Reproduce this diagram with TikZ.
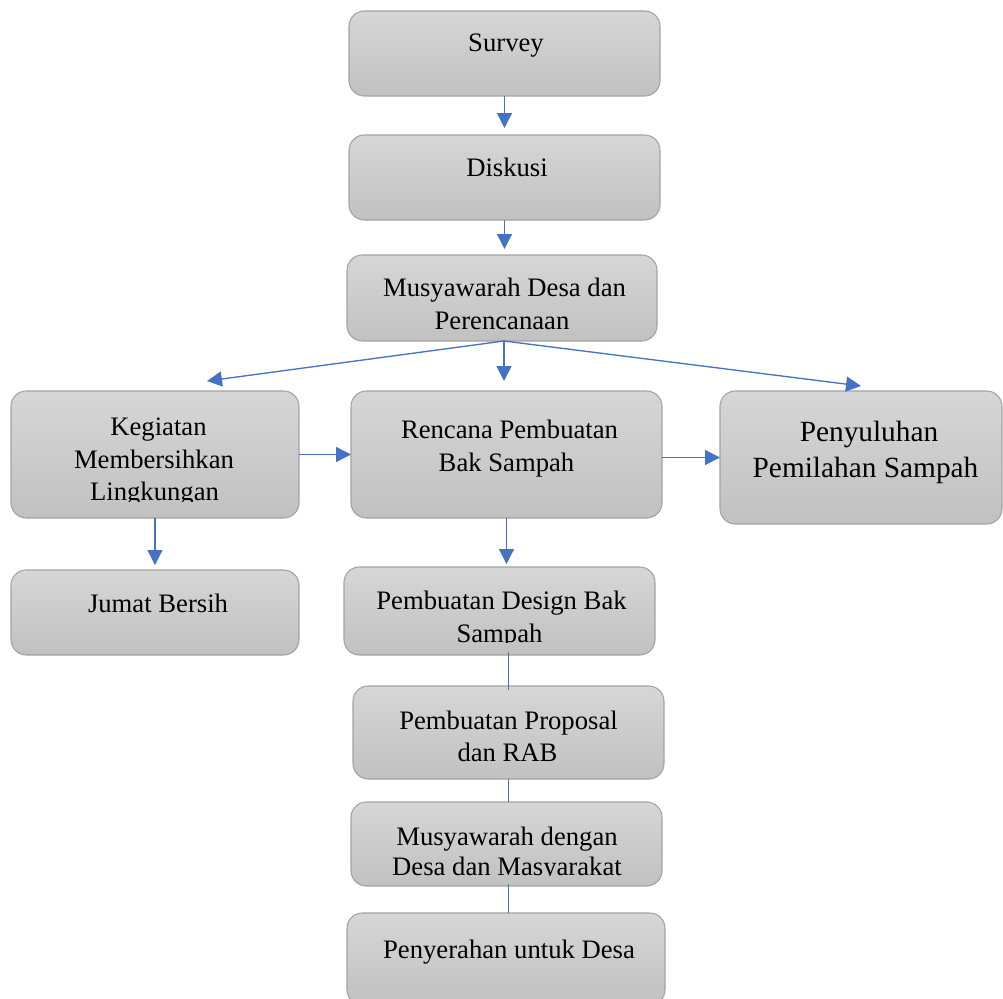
\documentclass[tikz,border=0pt]{standalone}
\usepackage{fontspec}
\setmainfont{Liberation Serif}
\usetikzlibrary{arrows.meta,calc}
\definecolor{boxtop}{HTML}{D6D6D6}
\definecolor{boxbot}{HTML}{C1C1C1}
\definecolor{boxline}{HTML}{A3A3A3}
\definecolor{arrblue}{HTML}{4472C4}
\tikzset{
  box/.style={draw=boxline, line width=0.8pt, rounded corners=11.5pt,
    top color=boxtop, bottom color=boxbot, inner sep=0pt, outer sep=0pt},
  txt/.style={anchor=base, inner sep=0pt, font=\fontsize{20pt}{24pt}\selectfont},
  bigtxt/.style={anchor=base, inner sep=0pt, font=\fontsize{22pt}{26pt}\selectfont},
  arr/.style={draw=arrblue, line width=1pt, -{Triangle[length=11.25pt,width=11.25pt]}},
  link/.style={draw=arrblue, line width=1pt}
}
\begin{document}
\begin{tikzpicture}[x=0.75pt,y=-0.75pt]
\useasboundingbox (0,0) rectangle (1003,999);
% boxes
\node[box, minimum width=311*0.75pt, minimum height=85*0.75pt] (s1) at (504.5,53.5) {};
\node[box, minimum width=311*0.75pt, minimum height=85*0.75pt] (s2) at (504.5,177.5) {};
\node[box, minimum width=310*0.75pt, minimum height=86*0.75pt] (s3) at (502,298) {};
\node[box, minimum width=288*0.75pt, minimum height=127*0.75pt] (s4) at (155,454.5) {};
\node[box, minimum width=311*0.75pt, minimum height=127*0.75pt] (s5) at (506.5,454.5) {};
\node[box, minimum width=282*0.75pt, minimum height=133*0.75pt] (s6) at (861,457.5) {};
\node[box, minimum width=288*0.75pt, minimum height=85*0.75pt] (s7) at (155,612.5) {};
\node[box, minimum width=311*0.75pt, minimum height=88*0.75pt] (s8) at (499.5,611) {};
\node[box, minimum width=311*0.75pt, minimum height=93*0.75pt] (s9) at (508.5,732.5) {};
\node[box, minimum width=311*0.75pt, minimum height=84*0.75pt] (s10) at (506.5,844) {};
\node[box, minimum width=318*0.75pt, minimum height=92*0.75pt] (s11) at (506,959) {};
% texts
\node[txt] (t1) at (506,52) {Survey};
\node[txt] (t2) at (507,176) {Diskusi};
\node[txt] (t3a) at (504.5,296) {Musyawarah Desa dan};
\begin{scope}
  \clip (347,300) rectangle (657,329.5);
  \node[txt] (t3b) at (502,329) {Perencanaan};
\end{scope}
\node[txt] (t4a) at (158.5,435) {Kegiatan};
\node[txt] (t4b) at (154,468) {Membersihkan};
\begin{scope}
  \clip (11,470) rectangle (299,501);
  \node[txt] (t4c) at (154.5,500) {Lingkungan};
\end{scope}
\node[txt] (t5a) at (509.5,438) {Rencana Pembuatan};
\node[txt] (t5b) at (506.5,471) {Bak Sampah};
\node[bigtxt] (t6a) at (869,441) {Penyuluhan};
\node[bigtxt] (t6b) at (865.5,477) {Pemilahan Sampah};
\node[txt] (t7) at (158,612) {Jumat Bersih};
\node[txt] (t8a) at (501.5,609) {Pembuatan Design Bak};
\begin{scope}
  \clip (344,612) rectangle (655,642.5);
  \node[txt] (t8b) at (499.5,642) {Sampah};
\end{scope}
\node[txt] (t9a) at (508.5,729) {Pembuatan Proposal};
\node[txt] (t9b) at (507.5,761) {dan RAB};
\node[txt] (t10a) at (507,845) {Musyawarah dengan};
\begin{scope}
  \clip (351,848) rectangle (662,875.5);
  \node[txt] (t10b) at (507,875) {Desa dan Masyarakat};
\end{scope}
\node[txt] (t11) at (509,958) {Penyerahan untuk Desa};
% connectors
\coordinate (c4) at (207,381);
\coordinate (c6) at (861,386);
\draw[arr, shorten >=5.25pt] (s1.south) -- (s1.south |- s2.north);
\draw[arr, shorten >=4.5pt] (s2.south) -- (s2.south |- s3.north);
\draw[arr] ($(s3.south)+(2,0)$) -- (c4);
\draw[arr, shorten >=7.5pt] ($(s3.south)+(2,0)$) -- ($(s3.south |- s5.north)+(2,0)$);
\draw[arr] ($(s3.south)+(2,0)$) -- (c6);
\draw[arr] (s4.east) -- (s5.west);
\draw[arr] (s5.east |- s6.west) -- (s6.west);
\draw[arr, shorten >=3.75pt] (s4.south) -- (s7.north);
\draw[arr, shorten >=2.25pt] (s5.south) -- (s5.south |- s8.north);
\draw[link, shorten <=-2pt, shorten >=-3pt] (s8.south -| s9.north) -- (s9.north);
\draw[link] (s9.south) -- (s9.south |- s10.north);
\draw[link, shorten <=-1.5pt] (s10.south -| s9.south) -- (s11.north -| s9.south);
\end{tikzpicture}
\end{document}
